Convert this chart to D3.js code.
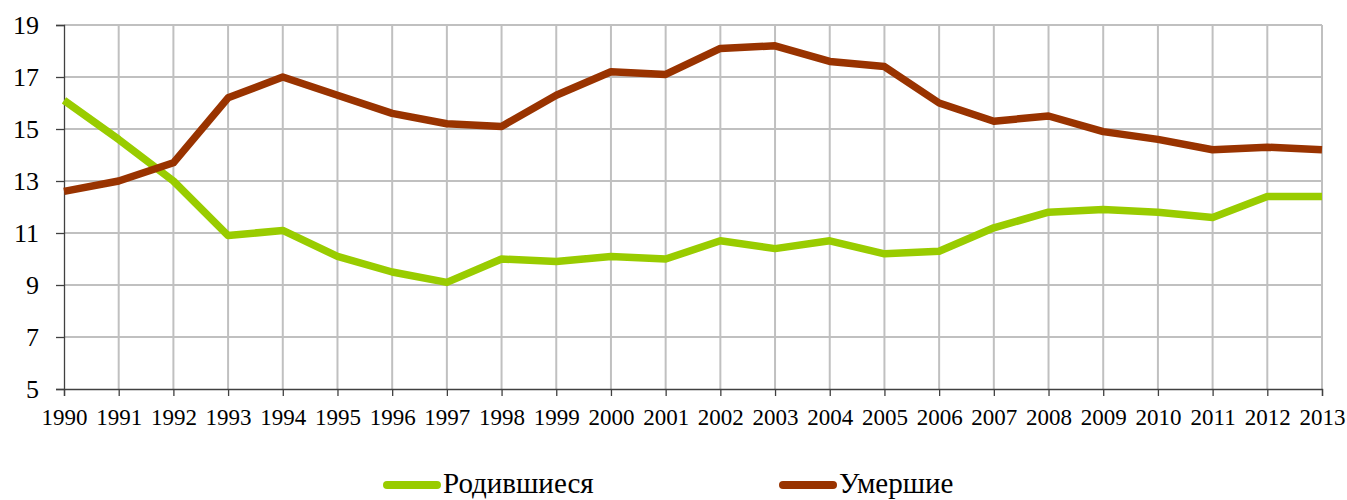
<!DOCTYPE html>
<html>
<head>
<meta charset="utf-8">
<script src="https://cdn.jsdelivr.net/npm/d3@7"></script>
<style>
  html, body { margin: 0; padding: 0; background: #fff; }
</style>
</head>
<body>
<svg id="chart" width="1347" height="500"></svg>
<script>
const YEARS = d3.range(1990, 2014)
const BIRTHS = [16.1, 14.6, 13.0, 10.9, 11.1, 10.1, 9.5, 9.1, 10.0, 9.9, 10.1, 10.0,
  10.7, 10.4, 10.7, 10.2, 10.3, 11.2, 11.8, 11.9, 11.8, 11.6, 12.4, 12.4]
const DEATHS = [12.6, 13.0, 13.7, 16.2, 17.0, 16.3, 15.6, 15.2, 15.1, 16.3, 17.2, 17.1,
  18.1, 18.2, 17.6, 17.4, 16.0, 15.3, 15.5, 14.9, 14.6, 14.2, 14.3, 14.2]
const Y_TICKS = [5, 7, 9, 11, 13, 15, 17, 19]
const SERIES = [
  { name: 'Родившиеся', values: BIRTHS, color: '#99cc00' },
  { name: 'Умершие', values: DEATHS, color: '#993300' },
]

const FONT = "'Liberation Serif', 'Times New Roman', serif"
const LEFT = 64, RIGHT = 1322, TOP = 25, BOTTOM = 389

const svg = d3.select('#chart')

const x = d3.scaleLinear().domain([1990, 2013]).range([LEFT, RIGHT])
const y = d3.scaleLinear().domain([5, 19]).range([BOTTOM, TOP])

// grille
const grid = svg.append('g')
grid.selectAll('.h')
  .data(Y_TICKS.slice(1))
  .enter().append('line')
  .attr('x1', LEFT).attr('x2', RIGHT)
  .attr('y1', d => y(d)).attr('y2', d => y(d))
  .attr('stroke', '#c0c0c0').attr('stroke-width', 2)
grid.selectAll('.v')
  .data(YEARS.slice(1))
  .enter().append('line')
  .attr('x1', d => x(d)).attr('x2', d => x(d))
  .attr('y1', TOP).attr('y2', BOTTOM)
  .attr('stroke', '#c0c0c0').attr('stroke-width', 2)

// axes
const xAxis = svg.append('g')
  .attr('transform', `translate(0,${BOTTOM})`)
  .call(d3.axisBottom(x).tickValues(YEARS).tickFormat(d3.format('d')).tickSize(7).tickPadding(13))
xAxis.attr('font-family', FONT).attr('font-size', 23)
xAxis.select('.domain').attr('stroke', '#404040').attr('stroke-width', 1.3)
xAxis.selectAll('.tick line').attr('stroke', '#404040').attr('stroke-width', 1.3)
xAxis.selectAll('text').attr('fill', '#000')

const yAxis = svg.append('g')
  .attr('transform', `translate(${LEFT},0)`)
  .call(d3.axisLeft(y).tickValues(Y_TICKS).tickSize(8).tickPadding(17))
yAxis.attr('font-family', FONT).attr('font-size', 26)
yAxis.select('.domain').attr('stroke', '#404040').attr('stroke-width', 1.3)
yAxis.selectAll('.tick line').attr('stroke', '#404040').attr('stroke-width', 1.3)
yAxis.selectAll('text').attr('fill', '#000')

// courbes
const line = d3.line()
  .x((d, i) => x(YEARS[i]))
  .y(d => y(d))

svg.selectAll('.serie')
  .data(SERIES)
  .enter().append('path')
  .attr('d', d => line(d.values))
  .attr('fill', 'none')
  .attr('stroke', d => d.color)
  .attr('stroke-width', 7.5)
  .attr('stroke-linejoin', 'round')

// légende
const legend = svg.append('g')
  .attr('font-family', FONT)
  .attr('font-size', 29)
const LEG_X = [387, 783]
legend.selectAll('line')
  .data(SERIES)
  .enter().append('line')
  .attr('x1', (d, i) => LEG_X[i]).attr('x2', (d, i) => LEG_X[i] + 50)
  .attr('y1', 485).attr('y2', 485)
  .attr('stroke', d => d.color).attr('stroke-width', 8)
  .attr('stroke-linecap', 'round')
legend.selectAll('text')
  .data(SERIES)
  .enter().append('text')
  .attr('x', (d, i) => LEG_X[i] + 56)
  .attr('y', 493)
  .text(d => d.name)
</script>
</body>
</html>
